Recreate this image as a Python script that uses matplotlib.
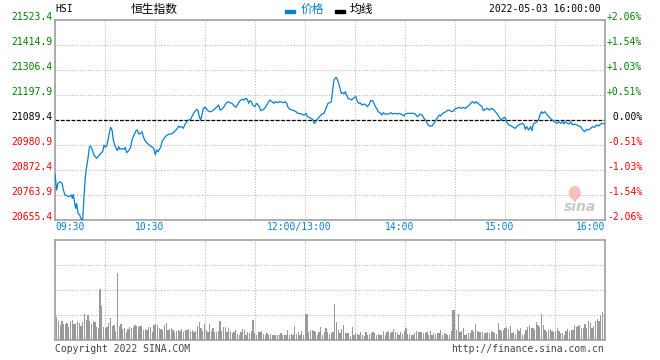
import numpy as np
import matplotlib
matplotlib.use("Agg")
import matplotlib.pyplot as plt
from matplotlib.transforms import offset_copy
from matplotlib.patches import Rectangle, Ellipse

plt.rcParams["font.family"] = ["DejaVu Sans Mono", "Noto Sans CJK SC"]

W, H = 660, 360

prev_close = 21089.4
price_ticks = [21523.4, 21414.9, 21306.4, 21197.9, 21089.4,
               20980.9, 20872.4, 20763.9, 20655.4]
pct_labels = ["+2.06%", "+1.54%", "+1.03%", "+0.51%", " 0.00%",
              "-0.51%", "-1.03%", "-1.54%", "-2.06%"]
time_labels = ["09:30", "10:30", "12:00/13:00", "14:00", "15:00", "16:00"]
time_label_min = [0, 60, 150, 210, 270, 330]

# minutes of trading since 09:30 (lunch break removed) and index level
minutes = [
    0.0, 1.0, 1.8, 3.0, 4.2, 5.0, 6.0, 7.4, 8.6, 9.8, 10.4, 11.0, 11.8, 12.4,
    13.0, 13.8, 14.8, 15.8, 16.6, 17.4, 18.2, 19.0, 19.8, 20.6, 21.4, 22.2,
    23.4, 25.0, 26.2, 27.4, 28.6, 29.4, 30.2, 31.0, 31.8, 32.6, 33.4, 34.2,
    35.0, 35.8, 36.6, 37.4, 38.2, 39.0, 40.2, 41.4, 42.2, 43.0, 44.2, 45.4,
    46.2, 47.4, 48.6, 49.4, 50.2, 51.4, 52.2, 53.0, 53.8, 54.6, 55.4, 56.6,
    57.8, 58.6, 59.4, 60.2, 61.0, 61.8, 62.6, 63.4, 64.2, 65.4, 66.6, 67.4,
    68.6, 69.8, 71.0, 72.2, 73.4, 74.2, 75.0, 76.2, 77.0, 77.8, 79.0, 80.2,
    81.4, 82.6, 83.8, 85.0, 85.8, 86.6, 87.4, 88.2, 89.0, 90.2, 91.4, 92.6,
    93.8, 95.0, 96.2, 97.4, 98.2, 99.0, 100.2, 101.4, 102.6, 103.8, 105.0,
    106.2, 107.4, 108.6, 109.8, 111.0, 112.2, 113.4, 114.6, 115.4, 116.2,
    117.0, 117.8, 118.6, 119.8, 121.0, 121.8, 122.6, 123.4, 124.6, 125.8,
    127.0, 128.2, 129.0, 130.2, 131.4, 132.2, 133.4, 134.6, 135.8, 137.0,
    138.2, 139.0, 139.8, 141.0, 142.2, 143.4, 144.6, 145.4, 146.6, 147.8,
    149.0, 149.8, 150.6, 151.4, 152.6, 153.4, 154.6, 155.4, 156.2, 157.0,
    157.8, 159.0, 160.2, 161.4, 162.2, 163.0, 163.8, 165.0, 165.8, 166.6,
    167.4, 168.6, 169.4, 170.2, 171.0, 171.8, 172.6, 173.4, 174.2, 175.0,
    175.8, 177.0, 177.8, 179.0, 179.8, 180.6, 181.4, 182.2, 183.0, 184.2,
    185.4, 186.6, 187.4, 188.6, 189.4, 190.6, 191.4, 192.2, 193.0, 193.8,
    195.0, 196.2, 197.0, 197.8, 199.0, 200.2, 201.4, 202.6, 203.8, 205.0,
    206.2, 207.4, 208.6, 209.4, 210.2, 211.4, 212.6, 213.8, 215.0, 216.2,
    217.4, 218.6, 219.0, 220.2, 221.4, 222.6, 223.8, 225.0, 226.2, 227.4,
    228.6, 229.8, 230.6, 231.4, 232.2, 233.4, 234.6, 235.8, 237.0, 238.2,
    239.4, 240.2, 241.4, 242.6, 243.8, 245.0, 246.2, 247.4, 248.6, 249.4,
    250.6, 251.8, 252.6, 253.8, 255.0, 256.2, 257.0, 258.2, 259.4, 260.6,
    261.8, 263.0, 264.2, 265.4, 266.6, 267.8, 268.6, 269.8, 270.6, 271.4,
    272.6, 273.8, 275.0, 276.2, 277.0, 278.2, 279.4, 280.6, 281.4, 282.2,
    283.0, 284.2, 285.4, 286.2, 287.0, 288.2, 289.4, 290.2, 291.0, 291.8,
    292.6, 293.8, 294.6, 295.4, 296.6, 297.8, 299.0, 299.8, 301.0, 302.2,
    303.4, 304.6, 305.4, 306.2, 307.4, 308.6, 309.4, 310.6, 311.8, 313.0,
    314.2, 315.4, 316.6, 317.8, 319.0, 320.2, 321.4, 322.6, 323.8, 325.0,
    326.2, 327.4, 328.6, 330.0,
]
prices = [
    20853.6, 20785.6, 20814.5, 20821.8, 20814.5, 20785.6, 20763.9, 20759.6,
    20756.7, 20763.9, 20749.4, 20766.8, 20727.8, 20706.0, 20727.8, 20684.3,
    20677.1, 20658.3, 20655.4, 20756.7, 20843.5, 20886.9, 20923.0, 20970.8,
    20976.6, 20962.1, 20937.5, 20923.0, 20933.2, 20944.7, 20952.0, 20980.9,
    20970.8, 20976.6, 21002.6, 21034.4, 21057.6, 21046.0, 21002.6, 20980.9,
    20966.4, 20956.3, 20973.7, 20962.1, 20966.4, 20962.1, 20970.8, 20947.6,
    20956.3, 20970.8, 21002.6, 21024.3, 21043.1, 21046.0, 21028.6, 21031.5,
    21038.8, 21017.1, 21002.6, 20995.4, 20988.1, 20980.9, 20973.7, 20970.8,
    20962.1, 20937.5, 20959.2, 20952.0, 20962.1, 20970.8, 20995.4, 21009.8,
    21020.0, 21024.3, 21028.6, 21028.6, 21034.4, 21043.1, 21053.2, 21063.4,
    21057.6, 21060.5, 21053.2, 21067.7, 21082.2, 21089.4, 21092.3, 21111.1,
    21125.6, 21135.7, 21129.9, 21103.9, 21089.4, 21111.1, 21140.0, 21144.4,
    21132.8, 21125.6, 21125.6, 21132.8, 21140.0, 21147.3, 21154.5, 21132.8,
    21135.7, 21147.3, 21161.7, 21169.0, 21164.6, 21161.7, 21150.2, 21144.4,
    21158.8, 21173.3, 21179.1, 21176.2, 21183.4, 21179.1, 21161.7, 21173.3,
    21169.0, 21154.5, 21147.3, 21161.7, 21154.5, 21147.3, 21129.9, 21132.8,
    21140.0, 21154.5, 21169.0, 21176.2, 21169.0, 21161.7, 21169.0, 21164.6,
    21169.0, 21167.5, 21164.6, 21169.0, 21161.7, 21144.4, 21135.7, 21132.8,
    21129.9, 21125.6, 21118.3, 21118.3, 21115.4, 21111.1, 21111.1, 21118.3,
    21103.9, 21101.0, 21096.6, 21092.3, 21074.9, 21077.8, 21089.4, 21096.6,
    21106.8, 21115.4, 21118.3, 21132.8, 21147.3, 21161.7, 21164.6, 21169.0,
    21219.6, 21263.0, 21274.6, 21265.9, 21248.5, 21226.8, 21205.1, 21208.0,
    21202.2, 21212.4, 21197.9, 21183.4, 21179.1, 21176.2, 21183.4, 21187.8,
    21190.7, 21169.0, 21161.7, 21164.6, 21154.5, 21158.8, 21154.5, 21147.3,
    21158.8, 21173.3, 21173.3, 21161.7, 21147.3, 21140.0, 21125.6, 21121.2,
    21111.1, 21121.2, 21115.4, 21115.4, 21115.4, 21121.2, 21115.4, 21118.3,
    21115.4, 21118.3, 21115.4, 21111.1, 21106.8, 21115.4, 21118.3, 21118.3,
    21118.3, 21118.3, 21115.4, 21103.9, 21111.1, 21115.4, 21111.1, 21096.6,
    21086.5, 21067.7, 21063.4, 21063.4, 21074.9, 21089.4, 21103.9, 21111.1,
    21106.8, 21115.4, 21121.2, 21125.6, 21132.8, 21129.9, 21125.6, 21129.9,
    21140.0, 21140.0, 21144.4, 21140.0, 21144.4, 21140.0, 21147.3, 21154.5,
    21161.7, 21169.0, 21161.7, 21169.0, 21161.7, 21154.5, 21147.3, 21129.9,
    21135.7, 21140.0, 21132.8, 21140.0, 21135.7, 21125.6, 21115.4, 21101.0,
    21086.5, 21096.6, 21101.0, 21092.3, 21074.9, 21067.7, 21063.4, 21057.6,
    21053.2, 21060.5, 21067.7, 21072.0, 21074.9, 21067.7, 21048.9, 21060.5,
    21046.0, 21060.5, 21043.1, 21072.0, 21077.8, 21082.2, 21092.3, 21111.1,
    21125.6, 21118.3, 21125.6, 21118.3, 21111.1, 21101.0, 21092.3, 21086.5,
    21082.2, 21074.9, 21082.2, 21074.9, 21082.2, 21072.0, 21082.2, 21074.9,
    21072.0, 21082.2, 21067.7, 21072.0, 21067.7, 21063.4, 21060.5, 21046.0,
    21038.8, 21048.9, 21046.0, 21053.2, 21060.5, 21057.6, 21067.7, 21063.4,
    21072.0, 21074.9, 21072.0,
]

# traded volume, in units of one volume grid step
volume = [
    0.92, 0.76, 0.61, 0.76, 0.65, 0.65, 0.69, 0.52, 0.76, 0.80, 0.65, 0.65,
    0.72, 0.68, 0.56, 0.72, 1.05, 0.79, 0.99, 0.76, 0.65, 0.76, 0.72, 0.52,
    0.48, 2.05, 1.36, 0.52, 0.48, 0.52, 0.69, 0.88, 0.56, 0.61, 0.37, 2.69,
    0.56, 0.64, 0.45, 0.48, 0.32, 0.43, 0.52, 0.48, 0.52, 0.61, 0.56, 0.52,
    0.56, 0.56, 0.41, 0.45, 0.39, 0.51, 0.52, 0.32, 0.59, 0.65, 0.61, 0.48,
    0.43, 0.39, 0.59, 0.69, 0.39, 0.45, 0.48, 0.39, 0.31, 0.35, 0.39, 0.37,
    0.43, 0.32, 0.39, 0.39, 0.43, 0.37, 0.41, 0.32, 0.35, 0.56, 0.72, 0.48,
    0.35, 0.64, 0.39, 0.32, 0.65, 0.35, 0.48, 0.32, 0.32, 0.37, 0.76, 0.37,
    0.51, 0.51, 0.32, 0.48, 0.35, 0.29, 0.32, 0.39, 0.25, 0.21,
    0.32, 0.43, 0.39, 0.21, 0.32, 0.28, 0.35, 0.79, 0.28, 0.19, 0.32, 0.32,
    0.36, 0.24, 0.21, 0.27, 0.21, 0.24, 0.21, 0.19, 0.21, 0.19, 0.19, 0.27,
    0.19, 0.19, 0.19, 0.39, 0.21, 0.25, 0.19, 0.56, 0.24, 0.32, 0.21, 0.35,
    0.19, 1.04, 1.04, 0.32, 0.40, 0.40, 0.35, 0.32, 0.21, 0.32, 0.51, 0.21,
    0.32, 0.48, 0.32, 0.24, 0.29, 0.32, 1.45, 0.72, 0.40, 0.28, 0.43, 0.59,
    0.28, 0.28, 0.28, 0.16, 0.51, 0.19, 0.28, 0.25, 0.21, 0.32, 0.19, 0.15,
    0.32, 0.19, 0.25, 0.28, 0.32, 0.27, 0.21, 0.23, 0.21, 0.21, 0.35, 0.21,
    0.32, 0.37, 0.29, 0.32, 0.43, 0.32, 0.27, 0.21, 0.32, 0.24, 0.37, 0.48,
    0.24, 0.24, 0.20, 0.21, 0.27, 0.36, 0.32, 0.32, 0.32,
    0.28, 0.28, 0.32, 0.19, 0.35, 0.19, 0.28, 0.24, 0.28, 0.27, 0.39, 0.19,
    0.27, 0.24, 0.19, 0.19, 0.35, 1.19, 1.19, 0.40, 1.04, 0.32, 0.37, 0.48,
    0.19, 0.24, 0.28, 0.28, 0.40, 0.32, 0.64, 0.35, 0.32, 0.32, 0.32, 0.27,
    0.28, 0.32, 0.28, 0.35, 0.32, 0.29, 0.24, 0.69, 0.40, 0.37, 0.40, 0.48,
    0.51, 0.45, 0.56, 0.28, 0.32, 0.24, 0.43, 0.37, 0.48, 0.21, 0.24, 0.40,
    0.51, 0.61, 0.48, 0.48, 0.40, 0.72, 0.59, 0.52, 1.04, 0.59, 0.40, 0.32,
    0.40, 0.43, 0.37, 0.32, 0.37, 0.48, 0.35, 0.28, 0.28, 0.19, 0.35, 0.43,
    0.37, 0.40, 0.40, 0.59, 0.52, 0.55, 0.61, 0.48, 0.48, 0.64, 0.48, 0.75,
    0.69, 0.48, 0.56, 0.75, 0.83, 0.75, 0.99, 1.12, 1.05,
]

LINE_BLUE = "#0a7fd2"
GREEN = "#008000"
RED = "#ff0000"
BORDER = "#999999"
GRID = "#b4b4b4"

fig = plt.figure(figsize=(W / 100, H / 100), dpi=100)
ax = fig.add_axes([55 / W, 140 / H, 550 / W, 200 / H])
axv = fig.add_axes([55 / W, 20 / H, 550 / W, 100 / H])

for a in (ax, axv):
    a.set_xlim(0, 330)
    a.set_xticks(np.arange(0, 331, 30))
    a.tick_params(length=0, labelbottom=False, labelleft=False)
    a.grid(True, color=GRID, linewidth=0.75, linestyle=(0, (1, 1.6)))
    a.set_axisbelow(True)
    for s in a.spines.values():
        s.set_color(BORDER)
        s.set_linewidth(1.1)

# price panel
ax.set_ylim(price_ticks[-1], price_ticks[0])
ax.set_yticks(price_ticks)
ax.axhline(prev_close, color="black", linewidth=0.9, linestyle=(0, (3, 1.3)), zorder=2)
ax.plot(minutes, prices, color=LINE_BLUE, linewidth=0.9, zorder=3)

left_tr = offset_copy(ax.get_yaxis_transform(), fig=fig, x=-3, y=2.5, units="dots")
right_tr = offset_copy(ax.get_yaxis_transform(), fig=fig, x=2, y=2.5, units="dots")
for p, lab in zip(price_ticks, pct_labels):
    c = GREEN if p > prev_close else (RED if p < prev_close else "black")
    ax.text(0, p, f"{p:.1f}", transform=left_tr, ha="right", va="center",
            fontsize=7, color=c)
    ax.text(1, p, lab, transform=right_tr, ha="left", va="center",
            fontsize=7, color=c)

for i, (t, lab) in enumerate(zip(time_label_min, time_labels)):
    if i == 0:
        ha, dx = "left", 0
    elif i == len(time_labels) - 1:
        ha, dx = "right", 0
    else:
        ha, dx = "center", -5.5
    tr = offset_copy(ax.get_xaxis_transform(), fig=fig, x=dx, y=-7, units="dots")
    ax.text(t, 0, lab, transform=tr, ha=ha, va="center", fontsize=7, color=LINE_BLUE)

# sina watermark
ax.add_patch(Ellipse((0.945, 0.135), 0.022, 0.07, transform=ax.transAxes,
                     facecolor="#f4b0b0", edgecolor="none", alpha=0.8, zorder=1))
ax.text(0.955, 0.065, "sina", transform=ax.transAxes, ha="center", va="center",
        fontsize=10, fontweight="bold", fontstyle="italic", color="#c8c8c8",
        family="DejaVu Sans", zorder=1)

# volume panel
axv.set_ylim(0, 4)
axv.set_yticks([1, 2, 3])
vx = np.linspace(1, 329.5, len(volume))
axv.bar(vx, volume, width=0.75, color="#999999", linewidth=0, zorder=3)

# header
def px_text(x, y, s, **kw):
    fig.text(x / W, 1 - y / H, s, va="center", **kw)

px_text(55, 9, "HSI", fontsize=7, color="black")
px_text(154, 9, "恒生指数", fontsize=8.5, ha="center", color="black",
        family=["Noto Sans CJK SC", "DejaVu Sans"])
fig.patches.append(Rectangle((285 / W, 1 - 12.5 / H), 10 / W, 3 / H,
                             transform=fig.transFigure, color=LINE_BLUE))
px_text(301, 9, "价格", fontsize=8.5, color=LINE_BLUE,
        family=["Noto Sans CJK SC", "DejaVu Sans"])
fig.patches.append(Rectangle((335 / W, 1 - 12.5 / H), 10 / W, 3 / H,
                             transform=fig.transFigure, color="black"))
px_text(350, 9, "均线", fontsize=8.5, color="black",
        family=["Noto Sans CJK SC", "DejaVu Sans"])
px_text(601, 9, "2022-05-03 16:00:00", fontsize=7, ha="right", color="black")

# footer
px_text(55, 349, "Copyright 2022 SINA.COM", fontsize=7, color="#444444")
px_text(604, 349, "http://finance.sina.com.cn", fontsize=7, ha="right", color="#444444")

fig.savefig("out.png", dpi=100)
plt.close(fig)
